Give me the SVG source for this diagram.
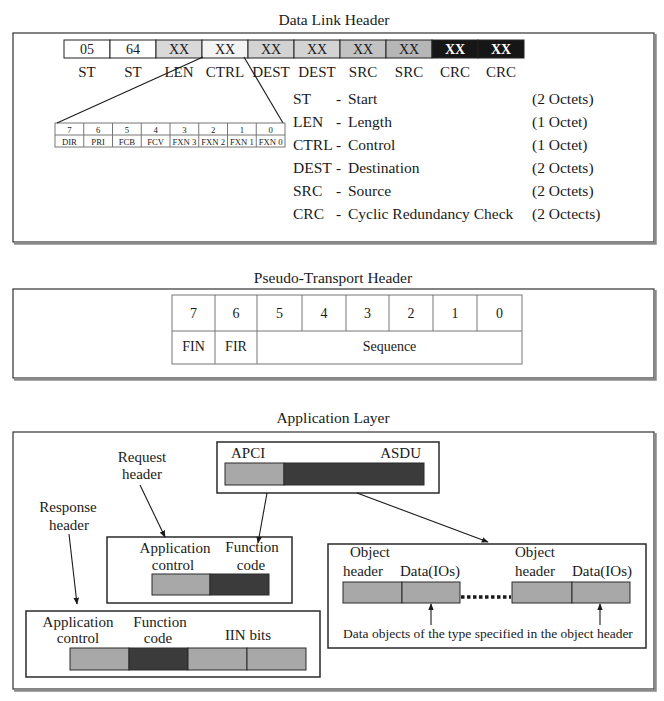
<svg xmlns="http://www.w3.org/2000/svg" width="664" height="701" viewBox="0 0 664 701">
<style>
text{font-family:"Liberation Serif","Times New Roman",serif;fill:#1a1a1a}
.t13{font-size:15.5px}
.t15{font-size:15px}
.t14{font-size:14px}
.t12{font-size:13.5px}
.t8{font-size:8.7px}
.lg{font-size:15.5px}
.m{text-anchor:middle}
.panel{fill:#fff;stroke:#333;stroke-width:1.2}
.shadow{fill:none;stroke:#8a8a8a;stroke-width:2.5}
.box{fill:#fff;stroke:#2a2a2a;stroke-width:1.5}
.cell{stroke:#222;stroke-width:1}
.tcell{fill:#fff;stroke:#777;stroke-width:1}
.g{fill:#a8a8a8;stroke:#2a2a2a;stroke-width:1}
.d{fill:#3b3b3b;stroke:#2a2a2a;stroke-width:1}
.ln{stroke:#1a1a1a;stroke-width:1.1;fill:none}
.wh{fill:#fff;font-weight:bold}
</style>
<defs>
<marker id="ah" viewBox="0 0 10 10" refX="9" refY="5" markerWidth="7" markerHeight="7" orient="auto" markerUnits="userSpaceOnUse">
<path d="M0,1 L10,5 L0,9 z" fill="#1a1a1a"/>
</marker>
</defs>

<!-- Panels -->
<g id="panel-datalink">
<text class="t13 m" x="334" y="25">Data Link Header</text>
<rect class="panel" x="13" y="33" width="641" height="209"/>
<polyline class="shadow" points="655.5,34 655.5,243.5 14,243.5"/>
</g>
<g id="panel-transport">
<text class="t13 m" x="333" y="283">Pseudo-Transport Header</text>
<rect class="panel" x="13" y="289" width="641" height="89"/>
<polyline class="shadow" points="655.5,290 655.5,379.5 14,379.5"/>
</g>
<g id="panel-app">
<text class="t13 m" x="333" y="423">Application Layer</text>
<rect class="panel" x="13" y="432" width="641" height="257"/>
<polyline class="shadow" points="655.5,433 655.5,690.5 14,690.5"/>
</g>

<!-- Byte row -->
<g id="byte-row">
<rect class="cell" x="64" y="40" width="46" height="18" fill="#fff"/>
<rect class="cell" x="110" y="40" width="46" height="18" fill="#fff"/>
<rect class="cell" x="156" y="40" width="46" height="18" fill="#d9d9d9"/>
<rect class="cell" x="202" y="40" width="46" height="18" fill="#f4f4f4"/>
<rect class="cell" x="248" y="40" width="46" height="18" fill="#d3d3d3"/>
<rect class="cell" x="294" y="40" width="46" height="18" fill="#d3d3d3"/>
<rect class="cell" x="340" y="40" width="46" height="18" fill="#c2c2c2"/>
<rect class="cell" x="386" y="40" width="46" height="18" fill="#b6b6b6"/>
<rect class="cell" x="432" y="40" width="46" height="18" fill="#161616"/>
<rect class="cell" x="478" y="40" width="46" height="18" fill="#161616"/>
<text class="t14 m" x="87" y="54">05</text>
<text class="t14 m" x="133" y="54">64</text>
<text class="t14 m" x="179" y="54">XX</text>
<text class="t14 m" x="225" y="54">XX</text>
<text class="t14 m" x="271" y="54">XX</text>
<text class="t14 m" x="317" y="54">XX</text>
<text class="t14 m" x="363" y="54">XX</text>
<text class="t14 m" x="409" y="54">XX</text>
<text class="t14 m wh" x="455" y="54">XX</text>
<text class="t14 m wh" x="501" y="54">XX</text>
<text class="t15 m" x="87" y="77">ST</text>
<text class="t15 m" x="133" y="77">ST</text>
<text class="t15 m" x="179" y="77">LEN</text>
<text class="t15 m" x="225" y="77">CTRL</text>
<text class="t15 m" x="271" y="77">DEST</text>
<text class="t15 m" x="317" y="77">DEST</text>
<text class="t15 m" x="363" y="77">SRC</text>
<text class="t15 m" x="409" y="77">SRC</text>
<text class="t15 m" x="455" y="77">CRC</text>
<text class="t15 m" x="501" y="77">CRC</text>
</g>

<!-- Control bit table -->
<g id="ctrl-bits">
<rect class="tcell" x="55" y="123" width="230" height="24"/>
<line class="tcell" x1="55" y1="135" x2="285" y2="135"/>
<line class="tcell" x1="83.75" y1="123" x2="83.75" y2="147"/>
<line class="tcell" x1="112.5" y1="123" x2="112.5" y2="147"/>
<line class="tcell" x1="141.25" y1="123" x2="141.25" y2="147"/>
<line class="tcell" x1="170" y1="123" x2="170" y2="147"/>
<line class="tcell" x1="198.75" y1="123" x2="198.75" y2="147"/>
<line class="tcell" x1="227.5" y1="123" x2="227.5" y2="147"/>
<line class="tcell" x1="256.25" y1="123" x2="256.25" y2="147"/>
<text class="t8 m" x="69.4" y="132.5">7</text>
<text class="t8 m" x="98.1" y="132.5">6</text>
<text class="t8 m" x="126.9" y="132.5">5</text>
<text class="t8 m" x="155.6" y="132.5">4</text>
<text class="t8 m" x="184.4" y="132.5">3</text>
<text class="t8 m" x="213.1" y="132.5">2</text>
<text class="t8 m" x="241.9" y="132.5">1</text>
<text class="t8 m" x="270.6" y="132.5">0</text>
<text class="t8 m" x="69.4" y="144.5">DIR</text>
<text class="t8 m" x="98.1" y="144.5">PRI</text>
<text class="t8 m" x="126.9" y="144.5">FCB</text>
<text class="t8 m" x="155.6" y="144.5">FCV</text>
<text class="t8 m" x="184.4" y="144.5">FXN 3</text>
<text class="t8 m" x="213.1" y="144.5">FXN 2</text>
<text class="t8 m" x="241.9" y="144.5">FXN 1</text>
<text class="t8 m" x="270.6" y="144.5">FXN 0</text>
</g>

<!-- Legend -->
<g id="legend" class="lg">
<text x="293" y="104">ST</text><text x="336" y="104">-</text><text x="348" y="104">Start</text><text x="532" y="104">(2 Octets)</text>
<text x="293" y="127">LEN</text><text x="336" y="127">-</text><text x="348" y="127">Length</text><text x="532" y="127">(1 Octet)</text>
<text x="293" y="150">CTRL</text><text x="336" y="150">-</text><text x="348" y="150">Control</text><text x="532" y="150">(1 Octet)</text>
<text x="293" y="173">DEST</text><text x="336" y="173">-</text><text x="348" y="173">Destination</text><text x="532" y="173">(2 Octets)</text>
<text x="293" y="196">SRC</text><text x="336" y="196">-</text><text x="348" y="196">Source</text><text x="532" y="196">(2 Octets)</text>
<text x="293" y="219">CRC</text><text x="336" y="219">-</text><text x="348" y="219">Cyclic Redundancy Check</text><text x="532" y="219">(2 Octects)</text>
</g>

<!-- Pseudo-transport table -->
<g id="transport-table">
<rect class="tcell" x="172" y="295" width="350" height="69"/>
<line class="tcell" x1="172" y1="331" x2="522" y2="331"/>
<line class="tcell" x1="215" y1="295" x2="215" y2="364"/>
<line class="tcell" x1="257" y1="295" x2="257" y2="364"/>
<line class="tcell" x1="302" y1="295" x2="302" y2="331"/>
<line class="tcell" x1="346" y1="295" x2="346" y2="331"/>
<line class="tcell" x1="389" y1="295" x2="389" y2="331"/>
<line class="tcell" x1="433" y1="295" x2="433" y2="331"/>
<line class="tcell" x1="477" y1="295" x2="477" y2="331"/>
<text class="t14 m" x="193.5" y="318">7</text>
<text class="t14 m" x="236" y="318">6</text>
<text class="t14 m" x="279.5" y="318">5</text>
<text class="t14 m" x="324" y="318">4</text>
<text class="t14 m" x="367.5" y="318">3</text>
<text class="t14 m" x="411" y="318">2</text>
<text class="t14 m" x="455" y="318">1</text>
<text class="t14 m" x="499.5" y="318">0</text>
<text class="t14 m" x="193.5" y="351">FIN</text>
<text class="t14 m" x="236" y="351">FIR</text>
<text class="t14 m" x="389.5" y="351">Sequence</text>
</g>

<!-- APCI/ASDU -->
<g id="apci">
<rect class="box" x="217" y="442" width="222" height="51"/>
<text class="t15" x="231" y="458">APCI</text>
<text class="t15" x="421" y="458" text-anchor="end">ASDU</text>
<rect class="g" x="225" y="463" width="59" height="22"/>
<rect class="d" x="284" y="463" width="140" height="22"/>
</g>

<!-- Request header -->
<g id="request">
<text class="t15 m" x="142" y="462">Request</text>
<text class="t15 m" x="142" y="479">header</text>
<rect class="box" x="107" y="537" width="185" height="66"/>
<text class="t15 m" x="175" y="553">Application</text>
<text class="t15 m" x="173" y="570">control</text>
<text class="t15 m" x="252" y="552">Function</text>
<text class="t15 m" x="251" y="570">code</text>
<rect class="g" x="152" y="574" width="58" height="21"/>
<rect class="d" x="210" y="574" width="59" height="21"/>
</g>

<!-- Response header -->
<g id="response">
<text class="t15 m" x="68" y="512">Response</text>
<text class="t15 m" x="69" y="530">header</text>
<rect class="box" x="26" y="611" width="294" height="66"/>
<text class="t15 m" x="78" y="627">Application</text>
<text class="t15 m" x="78" y="643">control</text>
<text class="t15 m" x="160" y="627">Function</text>
<text class="t15 m" x="158" y="643">code</text>
<text class="t15 m" x="248" y="640">IIN bits</text>
<rect class="g" x="70" y="648" width="59" height="22"/>
<rect class="d" x="129" y="648" width="59" height="22"/>
<rect class="g" x="188" y="648" width="59" height="22"/>
<rect class="g" x="247" y="648" width="59" height="22"/>
</g>

<!-- Objects -->
<g id="objects">
<rect class="box" x="328" y="544" width="318" height="104"/>
<text class="t15" x="350" y="557">Object</text>
<text class="t15" x="343" y="576">header</text>
<text class="t15" x="400" y="576">Data(IOs)</text>
<text class="t15" x="515" y="557">Object</text>
<text class="t15" x="515" y="576">header</text>
<text class="t15" x="572" y="576">Data(IOs)</text>
<rect class="g" x="343" y="582" width="59" height="21"/>
<rect class="g" x="402" y="582" width="58" height="21"/>
<rect class="g" x="512" y="582" width="60" height="21"/>
<rect class="g" x="572" y="582" width="58" height="21"/>
<line x1="461" y1="597" x2="511" y2="597" stroke="#1a1a1a" stroke-width="3.5" stroke-dasharray="3.5,2.5"/>
<text class="t12 m" x="488" y="638">Data objects of the type specified in the object header</text>
</g>

<!-- Connectors -->
<g id="connectors">
<line class="ln" x1="203" y1="57" x2="57" y2="123"/>
<line class="ln" x1="244" y1="57" x2="283" y2="123"/>
<line class="ln" x1="267" y1="493" x2="258" y2="543" marker-end="url(#ah)"/>
<line class="ln" x1="357" y1="493" x2="488" y2="542" marker-end="url(#ah)"/>
<line class="ln" x1="140" y1="485" x2="165" y2="537" marker-end="url(#ah)"/>
<line class="ln" x1="69" y1="534" x2="77" y2="604" marker-end="url(#ah)"/>
<line class="ln" x1="431" y1="625" x2="431" y2="604" marker-end="url(#ah)"/>
<line class="ln" x1="600" y1="625" x2="600" y2="604" marker-end="url(#ah)"/>
</g>
</svg>
